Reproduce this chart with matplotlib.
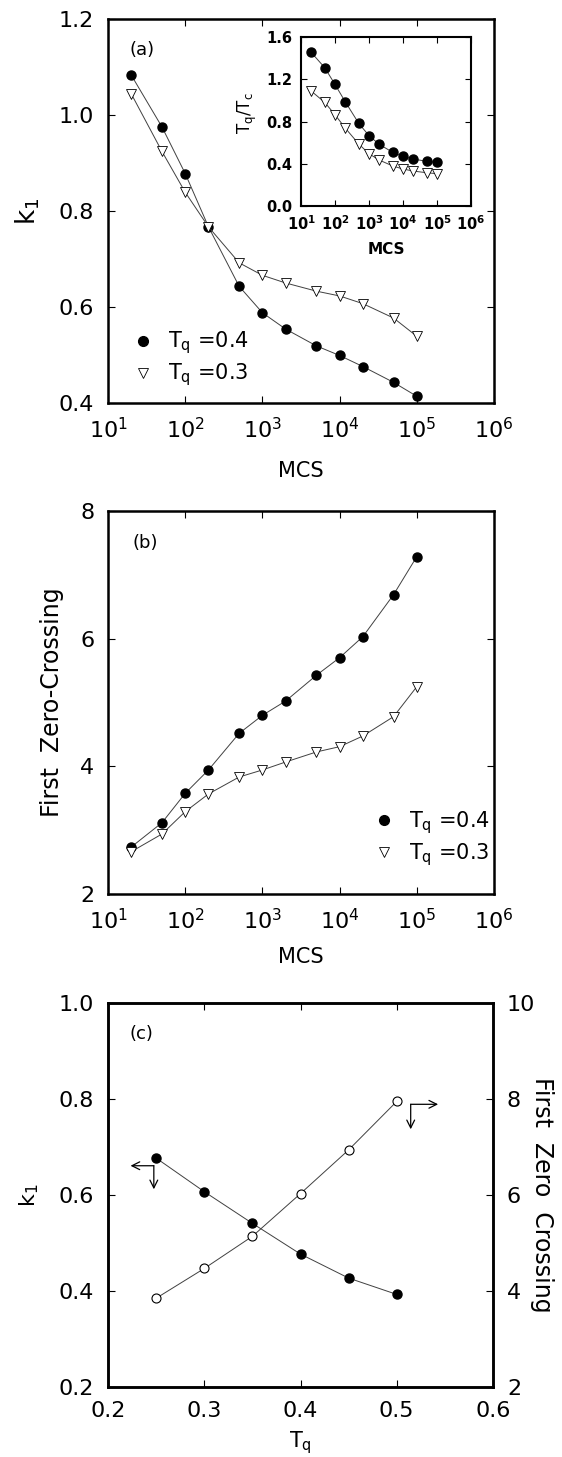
import numpy as np
import matplotlib
matplotlib.use('Agg')
import matplotlib.pyplot as plt
from matplotlib.lines import Line2D
from matplotlib import rc
rc('mathtext', default='regular')
plt.rcParams['font.family'] = ['DejaVu Sans']

# data
mcs = [20, 50, 100, 200, 500, 1e3, 2e3, 5e3, 1e4, 2e4, 5e4, 1e5]

k1_04 = [1.083, 0.975, 0.878, 0.767, 0.643, 0.588, 0.554, 0.519, 0.499, 0.476, 0.443, 0.414]
k1_03 = [1.044, 0.924, 0.839, 0.767, 0.692, 0.666, 0.650, 0.633, 0.623, 0.607, 0.577, 0.539]

tqtc_04 = [1.454, 1.309, 1.151, 0.987, 0.782, 0.666, 0.584, 0.508, 0.470, 0.445, 0.423, 0.413]
tqtc_03 = [1.088, 0.981, 0.864, 0.738, 0.587, 0.495, 0.435, 0.379, 0.350, 0.331, 0.315, 0.306]

fzc_04 = [2.736, 3.117, 3.577, 3.943, 4.517, 4.799, 5.023, 5.426, 5.702, 6.031, 6.689, 7.285]
fzc_03 = [2.663, 2.940, 3.290, 3.567, 3.833, 3.943, 4.068, 4.225, 4.308, 4.475, 4.778, 5.248]

tq = [0.25, 0.30, 0.35, 0.40, 0.45, 0.50]
k1_tq = [0.677, 0.607, 0.541, 0.477, 0.427, 0.393]
fzc_tq = [3.85, 4.47, 5.14, 6.03, 6.94, 7.95]

lc = '0.25'
lw = 0.7
fnt = 16


def style(ax, size=fnt, spw=1.8, tl=5, pad=10):
    for s in ax.spines.values():
        s.set_linewidth(spw)
    ax.tick_params(direction='in', top=True, right=True, length=tl, width=0.8,
                   labelsize=size, pad=pad)
    ax.minorticks_off()


def logx(ax):
    ax.set_xscale('log')
    ax.set_xlim(10, 1e6)
    ax.set_xticks([1e1, 1e2, 1e3, 1e4, 1e5, 1e6])
    ax.minorticks_off()


def leg(ax, anchor):
    h = [Line2D([], [], ls='none', marker='o', ms=7, mfc='k', mec='k'),
         Line2D([], [], ls='none', marker='v', ms=7, mfc='w', mec='k', mew=0.6)]
    ax.legend(h, ['T$_q$ =0.4', 'T$_q$ =0.3'], loc='lower left', bbox_to_anchor=anchor,
              frameon=False, fontsize=15, handlelength=0.8, handletextpad=0.8,
              labelspacing=0.25, borderpad=0.2)


fig = plt.figure(figsize=(5.62, 14.57), dpi=100)

# ---- panel (a)
ax = fig.add_axes([0.1922, 0.7234, 0.6868, 0.2636])
ax.plot(mcs, k1_04, c=lc, lw=lw, marker='o', ms=6.5, mfc='k', mec='k')
ax.plot(mcs, k1_03, c=lc, lw=lw, marker='v', ms=7, mfc='w', mec='k', mew=0.6)
logx(ax)
ax.set_ylim(0.4, 1.2)
ax.set_yticks([0.4, 0.6, 0.8, 1.0, 1.2])
ax.set_yticklabels(['0.4', '0.6', '0.8', '1.0', '1.2'])
style(ax)
ax.set_xlabel('MCS', fontsize=15)
ax.xaxis.set_label_coords(0.5, -0.152)
ax.set_ylabel('k$_1$', fontsize=19, va='bottom')
ax.yaxis.set_label_coords(-0.17, 0.5)
ax.text(0.088, 0.92, '(a)', transform=ax.transAxes, fontsize=13, ha='center', va='center')
leg(ax, (0.03, 0.0))

# inset
ins = fig.add_axes([0.5356, 0.8586, 0.3025, 0.1160])
ins.plot(mcs, tqtc_04, c=lc, lw=lw, marker='o', ms=6.5, mfc='k', mec='k')
ins.plot(mcs, tqtc_03, c=lc, lw=lw, marker='v', ms=6.5, mfc='w', mec='k', mew=0.6)
logx(ins)
ins.set_ylim(0, 1.6)
ins.set_yticks([0.0, 0.4, 0.8, 1.2, 1.6])
ins.set_yticklabels(['0.0', '0.4', '0.8', '1.2', '1.6'])
style(ins, size=10.5, spw=1.5, tl=4, pad=6)
ins.set_xlabel('MCS', fontsize=11, fontweight='bold')
ins.xaxis.set_label_coords(0.5, -0.21)
ins.set_ylabel('T$_q$/T$_c$', fontsize=12, va='bottom')
ins.yaxis.set_label_coords(-0.25, 0.55)
for t in ins.get_xticklabels() + ins.get_yticklabels():
    t.set_fontweight('bold')

# ---- panel (b)
bx = fig.add_axes([0.1922, 0.3864, 0.6868, 0.2629])
bx.plot(mcs, fzc_04, c=lc, lw=lw, marker='o', ms=6.5, mfc='k', mec='k')
bx.plot(mcs, fzc_03, c=lc, lw=lw, marker='v', ms=7, mfc='w', mec='k', mew=0.6)
logx(bx)
bx.set_ylim(2, 8)
bx.set_yticks([2, 4, 6, 8])
style(bx)
bx.set_xlabel('MCS', fontsize=15)
bx.xaxis.set_label_coords(0.5, -0.138)
bx.set_ylabel('First  Zero-Crossing', fontsize=17, va='bottom')
bx.yaxis.set_label_coords(-0.115, 0.5)
bx.text(0.096, 0.917, '(b)', transform=bx.transAxes, fontsize=13, ha='center', va='center')
leg(bx, (0.655, 0.03))

# ---- panel (c)
cx = fig.add_axes([0.1922, 0.0480, 0.685, 0.2636])
cx.plot(tq, k1_tq, c=lc, lw=lw, marker='o', ms=6.5, mfc='k', mec='k')
cx.set_xlim(0.2, 0.6)
cx.set_ylim(0.2, 1.0)
cx.set_xticks([0.2, 0.3, 0.4, 0.5, 0.6])
cx.set_yticks([0.2, 0.4, 0.6, 0.8, 1.0])
cx.set_yticklabels(['0.2', '0.4', '0.6', '0.8', '1.0'])
style(cx)
cx.tick_params(right=False)
cx.set_xlabel('T$_q$', fontsize=15)
cx.xaxis.set_label_coords(0.5, -0.11)
cx.set_ylabel('k$_1$', fontsize=16, va='bottom')
cx.yaxis.set_label_coords(-0.175, 0.5)
cx.text(0.087, 0.919, '(c)', transform=cx.transAxes, fontsize=13, ha='center', va='center')

cx2 = cx.twinx()
cx2.plot(tq, fzc_tq, c=lc, lw=lw, marker='o', ms=6.5, mfc='w', mec='k', mew=0.8)
cx2.set_ylim(2, 10)
cx2.set_yticks([2, 4, 6, 8, 10])
style(cx2)
cx2.tick_params(left=False, top=False)
cx2.set_ylabel('First  Zero  Crossing', fontsize=17, rotation=270, va='bottom')
cx2.yaxis.set_label_coords(1.096, 0.5)

# L-shaped arrows pointing to the axes
ap = dict(arrowstyle='->', lw=0.9, color='k', shrinkA=0, shrinkB=0,
          mutation_scale=14)
cx.annotate('', xy=(0.2234, 0.661), xytext=(0.2476, 0.661), arrowprops=ap)
cx.annotate('', xy=(0.2476, 0.612), xytext=(0.2476, 0.661), arrowprops=ap)
cx.annotate('', xy=(0.543, 0.789), xytext=(0.5145, 0.789), arrowprops=ap)
cx.annotate('', xy=(0.5145, 0.737), xytext=(0.5145, 0.789), arrowprops=ap)

plt.savefig('out.png', dpi=100)
plt.close()
